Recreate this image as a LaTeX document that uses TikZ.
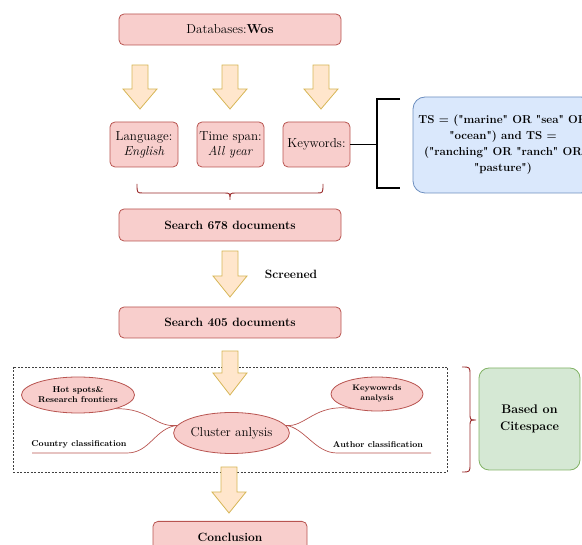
\documentclass[tikz,border=0pt]{standalone}
\usepackage{fontspec}
\newfontfamily\qfont{Latin Modern Roman}
\usetikzlibrary{shapes.geometric}
\definecolor{redfill}{HTML}{F8CECC}
\definecolor{reddraw}{HTML}{B85450}
\definecolor{bluefill}{HTML}{DAE8FC}
\definecolor{bluedraw}{HTML}{6C8EBF}
\definecolor{greenfill}{HTML}{D5E8D4}
\definecolor{greendraw}{HTML}{82B366}
\definecolor{arrfill}{HTML}{FFE6CC}
\definecolor{arrdraw}{HTML}{D6B656}
\definecolor{bracecol}{HTML}{9A2A2A}
\newcommand{\blockarrow}[4]{%
  \draw[bigarrow] ({#1-8},#2) -- ({#1+8},#2) -- ({#1+8},#3) -- ({#1+17},#3) -- (#1,#4) -- ({#1-17},#3) -- ({#1-8},#3) -- cycle;}
\tikzset{
  redbox/.style={draw=reddraw, fill=redfill, rounded corners=5pt, line width=0.8pt, align=center, inner sep=0pt},
  redell/.style={ellipse, draw=reddraw, fill=redfill, line width=0.8pt, align=center, inner sep=0pt},
  bigarrow/.style={draw=arrdraw, fill=arrfill, line width=0.8pt, line join=miter},
  twig/.style={draw=reddraw, line width=0.7pt},
  bracepath/.style={draw=bracecol, line width=0.9pt},
  regtext/.style={font=\fontsize{13}{15}\selectfont},
  boldtext/.style={font=\fontsize{12}{14}\selectfont\bfseries},
  smalltext/.style={font=\fontsize{8.5}{10}\selectfont\bfseries, align=center},
}
\begin{document}
\begin{tikzpicture}[x=1pt,y=-1pt]
\useasboundingbox (0,0) rectangle (582,545);
% top
\node[redbox, regtext, minimum width=222pt, minimum height=31pt] (db) at (230,29.5) {Databases:\textbf{Wos}};
\blockarrow{140}{65}{89}{109}
\blockarrow{230}{65}{89}{109}
\blockarrow{321}{65}{89}{109}
\node[redbox, regtext, minimum width=68pt, minimum height=45pt] (lang) at (144,144.5) {Language:\\\textit{English}};
\node[redbox, regtext, minimum width=67pt, minimum height=45pt] (time) at (230.5,144.5) {Time span:\\\textit{All year}};
\node[redbox, regtext, minimum width=67pt, minimum height=45pt] (kw) at (316.5,144.5) {Keywords:};
% bracket to query
\coordinate (bm) at (377,144.5);
\coordinate (bt) at (400,99);
\coordinate (bb) at (400,188);
\draw[line width=1.3pt] (kw.east) -- (bm);
\draw[line width=1.3pt] (bt) -- (377,99) -- (377,188) -- (bb);
\node[draw=bluedraw, fill=bluefill, rounded corners=12pt, line width=0.8pt, minimum width=180pt, minimum height=96pt, inner sep=0pt, align=center, font=\qfont\fontsize{11.5}{16}\selectfont\bfseries] (query) at (503,145) {TS = ("marine" OR "sea" OR\\"ocean") and TS =\\("ranching" OR "ranch" OR\\"pasture")};
% brace under row
\draw[bracepath] (137,184) .. controls (137,193) .. (143,193) -- (224,193) .. controls (230,193) .. (230,200) .. controls (230,193) .. (236,193) -- (317,193) .. controls (323,193) .. (323,184);
\node[redbox, boldtext, minimum width=222pt, minimum height=32pt] (s678) at (230,225) {Search 678 documents};
\blockarrow{230}{251}{276}{297}
\node[boldtext] (scr) at (291,274) {Screened};
\node[redbox, boldtext, minimum width=222pt, minimum height=31pt] (s405) at (230,322.5) {Search 405 documents};
% dashed cluster box
\draw[dashed, draw=black!75, line width=0.7pt, dash pattern=on 2pt off 1.5pt] (13,367) rectangle (447,472);
\blockarrow{230}{351}{373}{395}
\node[redell, minimum width=98pt, minimum height=36pt, smalltext] (hot) at (78,395) {Hot spots\&\\Research frontiers};
\node[redell, minimum width=111pt, minimum height=41pt, font=\fontsize{13}{15}\selectfont] (cluster) at (231.5,433) {Cluster anlysis};
\node[redell, minimum width=92pt, minimum height=34pt, font=\fontsize{8}{10}\selectfont\bfseries] (kwa) at (377,394) {Keywowrds\\analysis};
\node[smalltext] (country) at (79,444.5) {Country classification};
\node[smalltext] (author) at (378,444.5) {Author classification};
\coordinate (cl) at (32,453);
\coordinate (cr) at (127,453);
\coordinate (al) at (337,453);
\coordinate (ar) at (431,453);
\draw[twig] (hot.-20) .. controls (150,408) and (155,428) .. (cluster.172);
\draw[twig] (cl) -- (cr) .. controls (150,453) and (155,428) .. (cluster.172);
\draw[twig] (cluster.8) .. controls (305,428) and (315,403) .. (kwa.210);
\draw[twig] (cluster.8) .. controls (305,428) and (315,453) .. (al) -- (ar);
% right brace
\draw[bracepath] (462,367) .. controls (470,367) .. (470,375) -- (470,413) .. controls (470,420) .. (476,420) .. controls (470,420) .. (470,427) -- (470,464) .. controls (470,472) .. (462,472);
\node[draw=greendraw, fill=greenfill, rounded corners=10pt, line width=0.8pt, minimum width=101pt, minimum height=102pt, inner sep=0pt, align=center, font=\fontsize{12.5}{17}\selectfont\bfseries] (cite) at (529.5,419) {Based on\\Citespace};
\blockarrow{229}{467}{492}{513}
\node[redbox, minimum width=154pt, minimum height=32pt, anchor=north] (concl) at (230,521) {};
\node[boldtext] (concltext) at (230,537) {Conclusion};
\end{tikzpicture}
\end{document}
